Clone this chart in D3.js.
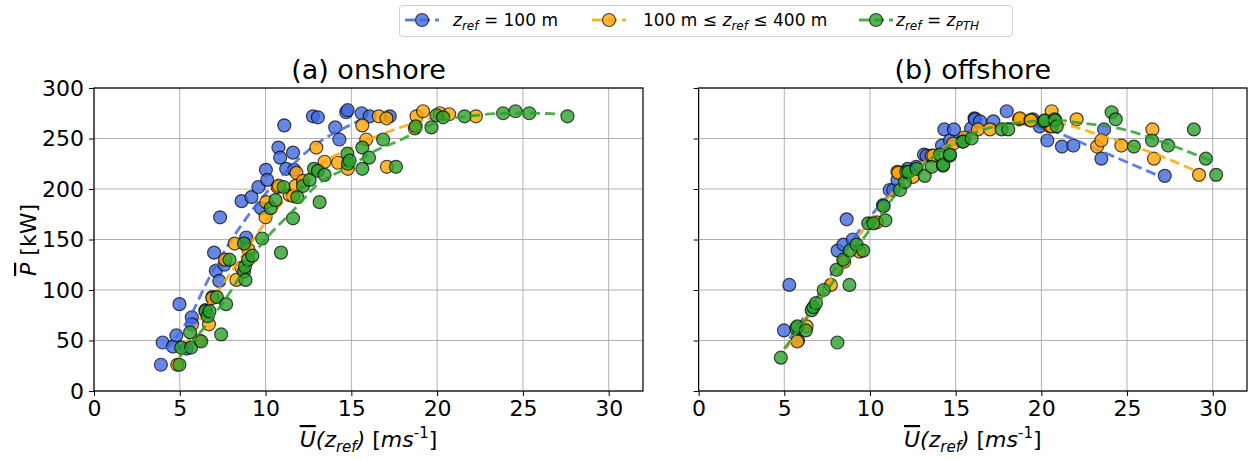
<!DOCTYPE html>
<html><head><meta charset="utf-8">
<script src="https://cdn.jsdelivr.net/npm/d3@7"></script>
<style>
html,body{margin:0;padding:0;background:#fff;}
text{font-family:"DejaVu Sans",sans-serif;}
</style></head>
<body>
<svg id="chart" width="1248" height="460"></svg>
<script>
// ---------- data ----------
const xTicks = [0,5,10,15,20,25,30];
const yTicks = [0,50,100,150,200,250,300];
const panelTitles = ["(a) onshore","(b) offshore"];
const seriesNames = ["z_ref = 100 m","100 m ≤ z_ref ≤ 400 m","z_ref = z_PTH"];

const onBlueU = [3.9,4.0,4.6,4.8,4.98,5.4,5.7,5.72,6.5,6.9,7.0,7.1,7.3,7.6,7.35,8.6,8.8,8.87,9.18,9.58,9.74,10.02,10.1,10.75,10.85,11.09,11.2,11.6,11.66,12.76,13.05,14.06,14.3,14.7,14.78,15.6,16.07,17.24];
const onBlueP = [26,48,44,55,86,42,73,66,80,93,137,119,109,125,172,188,146,152,192,202,181,219,209,241,231,263,220,236,219,272,271,261,249,276,278,275,272,272];

const onOrangeU = [4.85,6.15,6.7,6.9,7.64,8.2,8.3,8.6,9.0,10.0,10.04,10.7,10.78,11.4,11.6,11.75,11.8,12.18,12.96,13.44,14.22,14.8,15.64,15.87,16.6,17.05,17.07,18.7,18.8,19.18,20.16,20.7,22.26];
const onOrangeP = [26,50,66,92,130,146,110,122,140,172,187,202,203,194,193,203,216,208,241,227,226,220,263,249,272,270,222,260,272,277,275,274,272];

const onGreenU = [4.98,5.08,5.66,5.6,6.25,6.5,6.63,6.73,7.16,7.41,7.7,7.9,8.74,8.74,8.8,8.83,8.98,9.23,9.8,10.3,10.58,10.9,11.05,11.6,11.85,12.18,12.57,12.82,13.05,13.15,13.44,14.77,14.8,14.9,15.64,15.64,16.03,16.85,17.6,18.75,19.67,19.96,20.35,21.6,23.85,24.57,25.37,27.6];
const onGreenP = [26,43,43,58,49,79,74,79,93,56,86,130,146,118,123,110,130,134,151,181,189,137,202,171,192,203,209,220,218,187,214,235,225,228,241,220,231,249,222,262,261,273,271,272,275,277,275,272];

const offBlueU = [4.98,5.29,5.8,8.11,8.45,8.64,9.0,10.76,11.15,11.36,11.6,12.2,12.7,13.15,13.3,14.2,14.34,14.67,14.9,15.9,16.1,16.13,16.42,17.2,17.98,19.5,19.9,20.35,21.2,21.87,23.5,23.66,27.2];
const offBlueP = [60,105,50,139,145,170,150,184,199,199,209,220,222,234,233,243,259,248,259,260,270,269,267,267,277,269,262,248,242,243,230,259,213];

const offOrangeU = [5.76,6.3,7.72,8.5,9.4,10.4,11.6,11.65,12.5,13.6,13.7,14.86,15.5,16.3,17.0,18.7,18.75,19.36,19.4,20.5,20.6,20.6,22.06,23.25,23.5,24.67,26.48,26.57,29.2];
const offOrangeP = [49,64,105,128,138,167,217,216,212,233,233,245,251,259,259,269,270,268,268,262,277,262,269,242,248,243,259,230,214];

const offGreenU = [4.8,5.7,5.76,6.26,6.6,6.7,6.85,7.3,8.05,8.1,8.44,8.8,8.83,9.22,9.6,9.9,10.2,10.8,10.9,11.75,12.04,12.12,12.24,12.72,13.2,13.6,14.08,14.26,14.28,14.65,14.67,15.4,15.45,15.93,17.68,18.07,20.14,20.2,20.78,20.8,20.9,24.1,24.34,25.4,26.46,27.4,28.9,29.6,30.2];
const offGreenP = [33,62,64,60,80,83,87,100,120,48,130,105,139,145,139,166,166,183,169,199,207,217,217,220,213,222,234,223,224,233,234,247,247,250,259,259,267,268,269,268,262,276,269,242,248,243,259,230,214];

// fitted curves
const onBlueFitU = [4.2,5.8,6.5,8.5,11.0,13.0,14.9,15.9];
const onBlueFitP = [41,80,105,162,214,245,263,271];
const onOrangeFitU = [4.9,6.5,8.5,10.0,12.0,13.0,14.9,16.9,19.2,20.3];
const onOrangeFitP = [31,80,130,167,205,222,240,255,268,273];
const onGreenFitU = [5.0,7.5,9.65,11.8,13.0,14.9,16.3,17.8,20.0,22.3,23.9,25.6,27.2];
const onGreenFitP = [34,87,143,182,204,222,237,248,266,273,275,275,274];

const offBlueFitU = [5.3,7.0,9.0,11.0,13.0,15.0,17.0,18.5,20.5,23.4,27.0];
const offBlueFitP = [52,95,150,192,225,251,263,265,258,238,212];
const offOrangeFitU = [5.1,7.0,9.0,11.0,13.0,15.0,17.0,19.5,21.0,24.0,26.9,29.0];
const offOrangeFitP = [42,92,145,190,224,248,262,267,265,250,233,218];
const offGreenFitU = [5.0,7.0,10.0,12.0,14.0,16.0,18.0,21.0,22.0,25.0,27.3,29.9];
const offGreenFitP = [42,88,160,205,236,255,264,268,266,258,245,228];

// ---------- drawing ----------
const colors = ["#4169e1","#ffa500","#2ca02c"];
const svg = d3.select("#chart");
const plotTop = 88, plotBottom = 391;
const panels = [
  {x0:94, x1:643, title:panelTitles[0], showY:true,
   pts:[[onBlueU,onBlueP],[onOrangeU,onOrangeP],[onGreenU,onGreenP]],
   fits:[[onBlueFitU,onBlueFitP],[onOrangeFitU,onOrangeFitP],[onGreenFitU,onGreenFitP]]},
  {x0:698.6, x1:1247, title:panelTitles[1], showY:false,
   pts:[[offBlueU,offBlueP],[offOrangeU,offOrangeP],[offGreenU,offGreenP]],
   fits:[[offBlueFitU,offBlueFitP],[offOrangeFitU,offOrangeFitP],[offGreenFitU,offGreenFitP]]}
];

function mathLabel(sel, parts){
  parts.forEach(p=>{
    const t = sel.append("tspan").text(p.t);
    if(p.i) t.attr("font-style","italic");
    if(p.s) t.attr("font-size",p.s);
    if(p.dy) t.attr("dy",p.dy);
    if(p.o) t.style("text-decoration","overline");
  });
}

panels.forEach(pn=>{
  const x = d3.scaleLinear().domain([0,32]).range([pn.x0,pn.x1]);
  const y = d3.scaleLinear().domain([0,300]).range([plotBottom,plotTop]);
  const g = svg.append("g");
  // grid
  g.selectAll(".gx").data(xTicks).join("line")
    .attr("x1",d=>x(d)).attr("x2",d=>x(d)).attr("y1",plotTop).attr("y2",plotBottom)
    .attr("stroke","#b0b0b0").attr("stroke-width",1);
  g.selectAll(".gy").data(yTicks).join("line")
    .attr("x1",pn.x0).attr("x2",pn.x1).attr("y1",d=>y(d)).attr("y2",d=>y(d))
    .attr("stroke","#b0b0b0").attr("stroke-width",1);

  // series
  pn.pts.forEach((s,i)=>{
    const data = s[0].map((u,k)=>[u,s[1][k]]);
    g.append("g").selectAll("circle").data(data).join("circle")
      .attr("cx",d=>x(d[0])).attr("cy",d=>y(d[1])).attr("r",6.5)
      .attr("fill",colors[i]).attr("fill-opacity",0.8)
      .attr("stroke","#000").attr("stroke-opacity",0.7).attr("stroke-width",1.2);
    const f = pn.fits[i];
    const fd = f[0].map((u,k)=>[u,f[1][k]]);
    g.append("path").datum(fd)
      .attr("d",d3.line().x(d=>x(d[0])).y(d=>y(d[1])).curve(d3.curveMonotoneX))
      .attr("fill","none").attr("stroke",colors[i]).attr("stroke-opacity",0.85)
      .attr("stroke-width",2.8).attr("stroke-dasharray","10,5");
  });

  // axes
  const ax = d3.axisBottom(x).tickValues(xTicks).tickSize(5).tickPadding(4);
  const axG = svg.append("g").attr("transform",`translate(0,${plotBottom})`).call(ax);
  const ay = d3.axisLeft(y).tickValues(yTicks).tickSize(5).tickPadding(5);
  if(!pn.showY) ay.tickFormat("");
  const ayG = svg.append("g").attr("transform",`translate(${pn.x0},0)`).call(ay);
  [axG,ayG].forEach(a=>{
    a.select(".domain").remove();
    a.selectAll(".tick line").attr("stroke","#000").attr("stroke-width",1);
    a.selectAll(".tick text").attr("font-size",22).attr("fill","#000")
      .attr("font-family","DejaVu Sans");
  });
  // frame
  svg.append("rect").attr("x",pn.x0).attr("y",plotTop).attr("width",pn.x1-pn.x0).attr("height",plotBottom-plotTop)
    .attr("fill","none").attr("stroke","#000").attr("stroke-width",1.2);
  // title
  const cx = (pn.x0+pn.x1)/2;
  svg.append("text").attr("x",cx).attr("y",79).attr("text-anchor","middle")
    .attr("font-size",27).text(pn.title);
  // x label
  const xl = svg.append("text").attr("x",cx).attr("y",447).attr("text-anchor","middle").attr("font-size",22);
  mathLabel(xl,[{t:"U",i:true,o:true},{t:"(z",i:true},{t:"ref",i:true,s:15,dy:5},{t:")",i:true,dy:-5},
    {t:" [",i:false},{t:"ms",i:true},{t:"-1",s:15,dy:-9},{t:"]",dy:9}]);
});

// y label
const yl = svg.append("text").attr("transform","translate(36,240) rotate(-90)")
  .attr("text-anchor","middle").attr("font-size",22);
mathLabel(yl,[{t:"P",i:true,o:true},{t:" [kW]"}]);

// legend
const lg = svg.append("g");
lg.append("rect").attr("x",399.5).attr("y",5.5).attr("width",613).attr("height",31).attr("rx",3)
  .attr("fill","#fff").attr("stroke","#d0d0d0").attr("stroke-width",1);
const legItems = [
  {mx:422, tx:453, parts:[{t:"z",i:true},{t:"ref",i:true,s:12,dy:4},{t:" = 100 m",dy:-4}]},
  {mx:609, tx:643, parts:[{t:"100 m ≤ "},{t:"z",i:true},{t:"ref",i:true,s:12,dy:4},{t:" ≤  400 m",dy:-4}]},
  {mx:876, tx:896, parts:[{t:"z",i:true},{t:"ref",i:true,s:12,dy:4},{t:" = ",dy:-4},{t:"z",i:true},{t:"PTH",i:true,s:12,dy:4}]}
];
legItems.forEach((it,i)=>{
  lg.append("line").attr("x1",it.mx-17).attr("x2",it.mx+17).attr("y1",20).attr("y2",20)
    .attr("stroke",colors[i]).attr("stroke-opacity",0.85).attr("stroke-width",2.8).attr("stroke-dasharray","10,5");
  lg.append("circle").attr("cx",it.mx).attr("cy",20).attr("r",6.5)
    .attr("fill",colors[i]).attr("fill-opacity",0.8).attr("stroke","#000").attr("stroke-opacity",0.7).attr("stroke-width",1.2);
  const t = lg.append("text").attr("x",it.tx).attr("y",26).attr("font-size",17);
  mathLabel(t,it.parts);
});
</script>
</body></html>
